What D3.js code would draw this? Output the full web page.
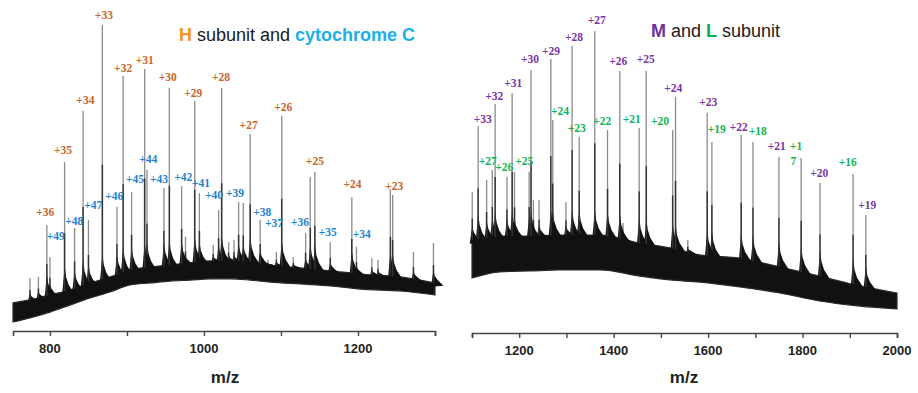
<!DOCTYPE html>
<html>
<head>
<meta charset="utf-8">
<script src="https://cdn.jsdelivr.net/npm/d3@7"></script>
<style>
  body { margin: 0; background: #fff; }
  .tick-label { font-family: "Liberation Sans", Arial, sans-serif; font-weight: bold; font-size: 13px; fill: #222; }
  .axis-title { font-family: "Liberation Sans", Arial, sans-serif; font-weight: bold; font-size: 17px; fill: #222; }
  .title { font-family: "Liberation Sans", Arial, sans-serif; font-size: 18px; fill: #1a1a1a; }
  .peak-label { font-family: "Liberation Serif", "Times New Roman", serif; font-weight: bold; font-size: 11.5px; }
</style>
</head>
<body>
<svg id="chart" width="918" height="393"></svg>
<script>
// ---- left panel: H subunit and cytochrome c ----
const leftTicks = [800, 900, 1000, 1100, 1200, 1300];
const leftTickLabels = [800, 1000, 1200];

// baseline noise band (m/z, upper, lower)
const leftBaseMz = [752, 774, 800, 826, 852, 878, 904, 930, 956, 982, 1008, 1034, 1060, 1086, 1125, 1164, 1203, 1255, 1300];
const leftBaseHi = [8.8, 9.7, 11.3, 12.8, 15.0, 16.9, 19.1, 20.0, 20.6, 21.3, 21.9, 21.9, 21.6, 20.6, 19.7, 18.8, 17.8, 16.9, 15.0];
const leftBaseLo = [2.8, 4.1, 5.9, 8.1, 10.3, 12.2, 14.4, 15.0, 15.6, 15.9, 16.3, 16.3, 15.9, 15.3, 14.7, 14.1, 13.1, 12.5, 11.3];

// H subunit peaks [m/z, intensity]
const hPeaks = [[796, 33.1], [819, 52.8], [843, 68.8], [868, 95.6], [895, 79.7], [923, 81.9], [955, 75.9],
  [988, 71.9], [1023, 75.9], [1060, 61.6], [1101, 67.2], [1138, 48.1], [1144, 49.7], [1192, 41.9],
  [1242, 44.4], [1245, 42.5]];
const hLabels = [['+36', 794, 37.3], ['+35', 817, 56.6], ['+34', 846, 72.2], ['+33', 870, 98.7], ['+32', 895, 82.3],
  ['+31', 923, 84.7], ['+30', 953, 79.5], ['+29', 986, 74.3], ['+28', 1022, 79.3], ['+27', 1058, 64.4],
  ['+26', 1103, 70.0], ['+25', 1144, 53.1], ['+24', 1193, 45.8], ['+23', 1247, 45.3]];

// cytochrome c peaks
const cPeaks = [[800, 23.1], [832, 32.2], [850, 34.7], [887, 38.8], [906, 43.4], [926, 50.3], [948, 44.7],
  [971, 45.3], [994, 43.1], [1019, 37.8], [1045, 40.3], [1051, 40.0], [1073, 34.7], [1094, 24.7],
  [1132, 30.6], [1164, 27.8], [1198, 26.3]];
const cLabels = [['+49', 807.5, 29.7], ['+48', 831.6, 34.4], ['+47', 856.3, 39.4], ['+46', 883.6, 42.2],
  ['+45', 910.4, 47.5], ['+44', 927.7, 53.7], ['+43', 941.6, 47.4], ['+42', 973.2, 48.2], ['+41', 996.2, 46.2],
  ['+40', 1013, 42.5], ['+39', 1040.3, 43.2], ['+38', 1075.8, 37.3], ['+37', 1091, 33.8], ['+36', 1124.7, 34.0],
  ['+35', 1160.7, 30.8], ['+34', 1204.9, 30.3]];

// unassigned peaks
const leftOther = [[774, 16.6], [785, 16.9], [976, 29.4], [1012, 26.9], [1032, 27.8], [1039, 28.4],
  [1083, 22.2], [1116, 23.1], [1218, 22.8], [1226, 22.2], [1272, 24.7], [1298, 27.5]];

// ---- right panel: M and L subunits ----
const rightTicks = [1100, 1200, 1300, 1400, 1500, 1600, 1700, 1800, 1900, 2000];
const rightTickLabels = [1200, 1400, 1600, 1800, 2000];

const rightBaseMz = [1100, 1159, 1223, 1286, 1371, 1455, 1519, 1582, 1667, 1752, 1836, 1921, 2000];
const rightBaseHi = [29.1, 30.3, 30.3, 30.6, 30.6, 28.1, 26.6, 24.4, 23.4, 20.6, 17.8, 14.7, 12.5];
const rightBaseLo = [17.2, 19.1, 19.4, 19.7, 19.7, 17.8, 16.6, 15.9, 14.4, 12.5, 10.0, 8.4, 7.5];

const mPeaks = [[1113, 64.7], [1149, 71.6], [1185, 75.0], [1225, 82.2], [1267, 85.6], [1312, 89.7], [1360, 94.4],
  [1413, 81.9], [1469, 81.9], [1531, 73.8], [1598, 68.8], [1670, 61.9], [1750, 55.0], [1837, 46.9], [1934, 36.9]];
const mLabels = [['+33', 1122.6, 66.9], ['+32', 1147.3, 74.1], ['+31', 1187.5, 78.0], ['+30', 1222.8, 85.5],
  ['+29', 1267.3, 88.2], ['+28', 1316, 92.4], ['+27', 1364, 97.8], ['+26', 1409.8, 85.0], ['+25', 1467.8, 85.6],
  ['+24', 1526.4, 76.7], ['+23', 1600.4, 72.1], ['+22', 1664.8, 64.3], ['+21', 1745.2, 58.5], ['+20', 1835.5, 49.9],
  ['+19', 1937.2, 40.0]];

const lPeaks = [[1131, 47.8], [1174, 48.8], [1221, 50.4], [1271, 66.6], [1327, 61.3], [1387, 63.4], [1454, 64.1],
  [1525, 63.4], [1608, 59.7], [1695, 59.7], [1797, 54.7], [1907, 49.7]];
const lLabels = [['+27', 1133.2, 53.8], ['+26', 1168.4, 52.0], ['+25', 1210.8, 53.8], ['+24', 1286.4, 69.4],
  ['+23', 1321.7, 64.0], ['+22', 1376, 66.3], ['+21', 1438.2, 66.9], ['+20', 1498.1, 66.3], ['+19', 1618.2, 63.7],
  ['+18', 1705, 63.2], ['+1', 1786.1, 58.5], ['7', 1780.4, 53.8], ['+16', 1895.6, 53.5]];

const rightOther = [[1100.5, 44.0], [1143, 50.9], [1190, 50.3], [1230, 41.6], [1242, 41.6], [1299, 40.9],
  [1420, 34.4], [1557, 29.1]];

// colours
const cH = '#c8652a', cC = '#1f82cf', cM = '#7a35a8', cL = '#12b35a';

const svg = d3.select('#chart');

function drawPanel(p) {
  const x = d3.scaleLinear().domain(p.domain).range(p.range);
  const y = d3.scaleLinear().domain([0, 100]).range([p.axisY, p.axisY - 320]);
  const baseHi = d3.scaleLinear().domain(p.baseMz).range(p.baseHi).clamp(true);

  const g = svg.append('g').attr('class', 'panel');

  // noise band
  const area = d3.area()
    .x((d, i) => x(p.baseMz[i]))
    .y0((d, i) => y(p.baseLo[i]))
    .y1((d, i) => y(p.baseHi[i]))
    .curve(d3.curveMonotoneX);
  g.append('path')
    .attr('d', area(p.baseMz))
    .attr('fill', '#111')
    .attr('stroke', '#2a2a2a')
    .attr('stroke-width', 1.2);

  // peaks: dark foot with tail to the right, thin grey stick above
  const peaks = p.peaks.flat();
  peaks.forEach(([mz, v]) => {
    const px = x(mz), yb = y(baseHi(mz)), yt = y(v);
    const hh = Math.min(26, (yb - yt) * 0.3);
    const yMid = yb - (yb - yt) * 0.45;
    g.append('path')
      .attr('d', 'M' + (px - 2.5) + ',' + (yb + 4) + 'L' + (px - 1) + ',' + (yb - hh * 0.5) +
        'L' + px + ',' + (yb - hh) + 'L' + (px + 1.5) + ',' + (yb - hh * 0.55) +
        'L' + (px + 4) + ',' + (yb - hh * 0.25) + 'L' + (px + 10) + ',' + (yb + 3) + 'Z')
      .attr('fill', '#111');
    g.append('line')
      .attr('x1', px).attr('x2', px).attr('y1', yMid).attr('y2', yt)
      .attr('stroke', '#8c8c8c').attr('stroke-width', 1.3);
    g.append('line')
      .attr('x1', px).attr('x2', px).attr('y1', yb).attr('y2', yMid)
      .attr('stroke', '#333').attr('stroke-width', 1.6);
  });

  // peak labels
  p.labels.forEach(([list, color]) => {
    g.append('g').selectAll('text')
      .data(list)
      .enter().append('text')
        .attr('class', 'peak-label')
        .attr('x', d => x(d[1]))
        .attr('y', d => y(d[2]))
        .attr('dy', '0.35em')
        .attr('text-anchor', 'middle')
        .attr('fill', color)
        .text(d => d[0]);
  });

  // x axis
  const axis = d3.axisBottom(x)
    .tickValues(p.ticks)
    .tickSize(5)
    .tickFormat('');
  const ax = g.append('g')
    .attr('transform', 'translate(0,' + p.axisY + ')')
    .call(axis);
  ax.select('.domain').attr('stroke', '#444').attr('stroke-width', 1.6);
  ax.selectAll('.tick line').attr('stroke', '#444').attr('stroke-width', 1.4);

  g.append('g').selectAll('text')
    .data(p.tickLabels)
    .enter().append('text')
      .attr('class', 'tick-label')
      .attr('x', d => x(d))
      .attr('y', p.axisY + 22)
      .attr('text-anchor', 'middle')
      .text(d => d);

  g.append('text')
    .attr('class', 'axis-title')
    .attr('x', p.titleX)
    .attr('y', 383)
    .attr('text-anchor', 'middle')
    .text('m/z');
}

drawPanel({
  domain: [752, 1300], range: [13, 435], axisY: 331,
  baseMz: leftBaseMz, baseHi: leftBaseHi, baseLo: leftBaseLo,
  peaks: [leftOther, cPeaks, hPeaks],
  labels: [[hLabels, cH], [cLabels, cC]],
  ticks: leftTicks, tickLabels: leftTickLabels, titleX: 225
});

drawPanel({
  domain: [1100, 2000], range: [472, 897], axisY: 333,
  baseMz: rightBaseMz, baseHi: rightBaseHi, baseLo: rightBaseLo,
  peaks: [rightOther, lPeaks, mPeaks],
  labels: [[mLabels, cM], [lLabels, cL]],
  ticks: rightTicks, tickLabels: rightTickLabels, titleX: 684
});

// titles
const t1 = svg.append('text').attr('class', 'title').attr('x', 179).attr('y', 41);
t1.append('tspan').attr('fill', '#f7941d').attr('font-weight', 'bold').text('H');
t1.append('tspan').text(' subunit and ');
t1.append('tspan').attr('fill', '#1cb0e6').attr('font-weight', 'bold').text('cytochrome  C');

const t2 = svg.append('text').attr('class', 'title').attr('x', 651).attr('y', 37);
t2.append('tspan').attr('fill', '#7030a0').attr('font-weight', 'bold').text('M');
t2.append('tspan').text(' and ');
t2.append('tspan').attr('fill', '#00b050').attr('font-weight', 'bold').text('L');
t2.append('tspan').text(' subunit');
</script>
</body>
</html>
